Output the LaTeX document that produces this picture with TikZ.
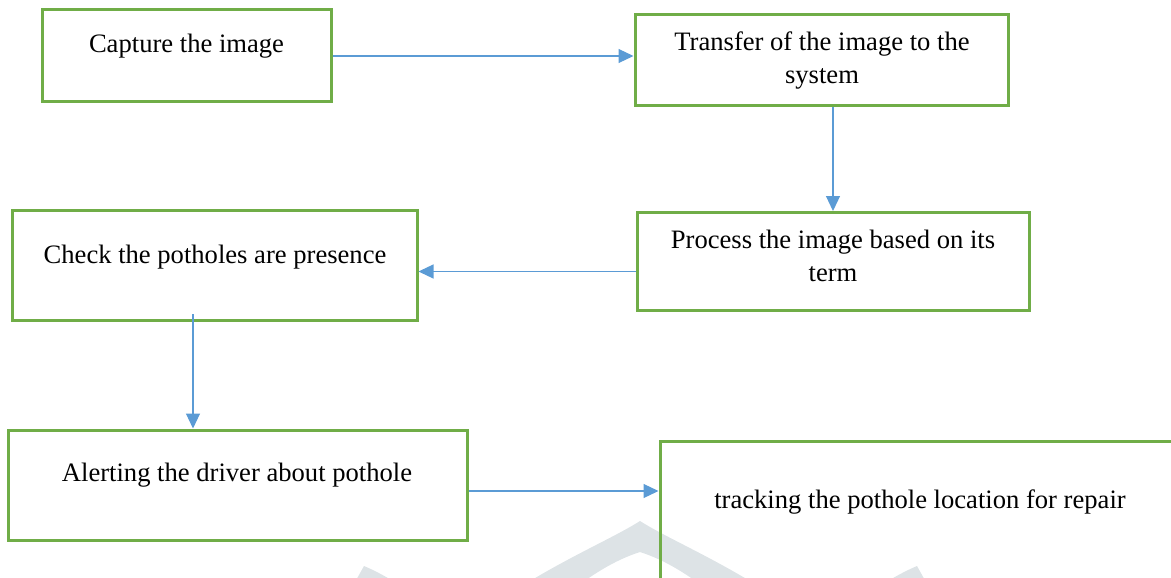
\documentclass[tikz,border=0pt]{standalone}
\usepackage{fontspec}
\setmainfont{Liberation Serif}
\usetikzlibrary{arrows.meta,positioning}
\definecolor{boxgreen}{RGB}{112,173,71}
\definecolor{flowblue}{RGB}{91,155,213}
\definecolor{markgrey}{RGB}{221,227,230}
\tikzstyle{stepbox} = [rectangle, draw=boxgreen, line width=3pt, inner sep=0pt]
\tikzstyle{steptext} = [text=black, align=center, anchor=base, inner sep=0pt, font=\fontsize{26.6}{32.7}\selectfont]
\tikzstyle{flow} = [draw=flowblue, line width=1.2pt, -{Triangle[length=15pt,width=14pt]}]

\begin{document}
\begin{tikzpicture}[x=1pt, y=-1pt]
\useasboundingbox (0,0) rectangle (1171,578);
\clip (0,0) rectangle (1171,578);

% watermark ==============================
\fill[markgrey] (500,600) .. controls (560,560) and (610,540) .. (640,521)
  .. controls (670,540) and (720,560) .. (780,600) -- (720,600)
  .. controls (690,575) and (665,560) .. (640,552)
  .. controls (615,560) and (590,575) .. (560,600) -- cycle;
\fill[markgrey] (345,600) -- (364,566) .. controls (385,575) and (400,585) .. (420,600) -- cycle;
\fill[markgrey] (936,600) -- (917,566) .. controls (896,575) and (881,585) .. (861,600) -- cycle;

% boxes ==================================
\node[stepbox, minimum width=289pt, minimum height=92pt] (capture) at (186.5,56) {};
\node[stepbox, minimum width=373pt, minimum height=91pt] (transfer) at (821.5,60.5) {};
\node[stepbox, minimum width=405pt, minimum height=110pt] (check) at (214.5,265.5) {};
\node[stepbox, minimum width=392pt, minimum height=98pt] (process) at (833,261.5) {};
\node[stepbox, minimum width=459pt, minimum height=110pt] (alert) at (237.5,485) {};
\node[stepbox, minimum width=530pt, minimum height=170pt] (track) at (925,526) {};

% texts (base = last line)
\node[steptext] (capturetxt) at (186.5,53) {Capture the image};
\node[steptext] (transfertxt) at (822,83.3) {Transfer of the image to the\\system};
\node[steptext] (checktxt) at (215,263) {Check the potholes are presence};
\node[steptext] (processtxt) at (833,281) {Process the image based on its\\term};
\node[steptext] (alerttxt) at (237,481) {Alerting the driver about pothole};
\node[steptext] (tracktxt) at (920,508) {tracking the pothole location for repair};

%edges
\path[flow] (capture.east) -- (capture.east -| transfer.west);
\path[flow] (transfer.south -| process.north) -- (process.north);
\path[flow] ([yshift=-10pt]process.west) -- ([yshift=-10pt]process.west -| check.east);
\path[flow] ([xshift=-21.5pt,yshift=8pt]check.south) -- ([xshift=-21.5pt]check.south |- alert.north);
\path[flow] ([yshift=-6pt]alert.east) -- ([yshift=-6pt]alert.east -| track.west);

\end{tikzpicture}
\end{document}
